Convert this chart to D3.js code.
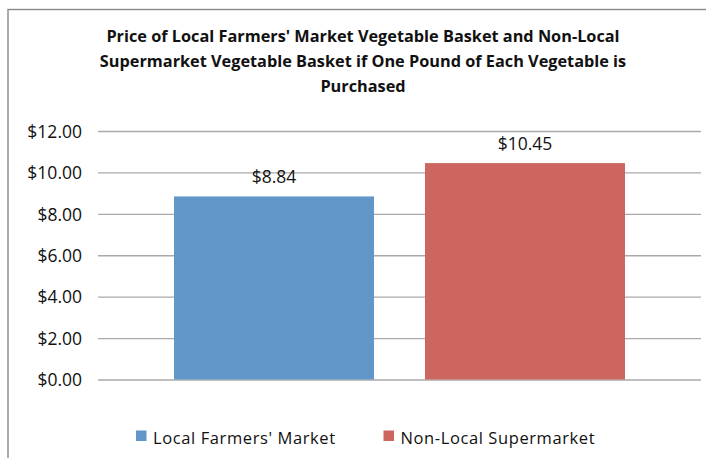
<!DOCTYPE html>
<html>
<head>
<meta charset="utf-8">
<script src="https://cdn.jsdelivr.net/npm/d3@7"></script>
<style>
  body { margin: 0; background: #fff; }
  svg { display: block; }
</style>
</head>
<body>
<svg width="706" height="458"></svg>
<script>
const WIDTH = 706
const HEIGHT = 458

const titleLines = [
    "Price of Local Farmers' Market Vegetable Basket and Non-Local",
    "Supermarket Vegetable Basket if One Pound of Each Vegetable is",
    "Purchased"
]
const categories = [""]
const seriesNames = ["Local Farmers' Market", "Non-Local Supermarket"]
const seriesValues = [8.84, 10.45]
const seriesColors = ["#6096c8", "#cd665f"]
const yTicks = [0, 2, 4, 6, 8, 10, 12]

const LABEL_FONT = "'Open Sans', 'DejaVu Sans', sans-serif"
const TITLE_FONT = "'Open Sans', sans-serif"

const svg = d3.select("svg")

// outer frame - right and bottom edges sit off the picture
svg.append("rect")
    .attr("x", 8)
    .attr("y", 9.5)
    .attr("width", 720)
    .attr("height", 480)
    .attr("fill", "#fff")
    .attr("stroke", "#888")
    .attr("stroke-width", 1.4)

const plot = { left: 98, right: 701, top: 131, bottom: 379.5 }

const y = d3.scaleLinear()
    .domain([0, 12])
    .range([plot.bottom, plot.top])

const x0 = d3.scaleBand()
    .domain(categories)
    .range([plot.left, plot.right])
    .paddingOuter(0.1685)
    .paddingInner(0)

const x1 = d3.scaleBand()
    .domain(seriesNames)
    .range([0, x0.bandwidth()])
    .paddingInner(0.203)
    .paddingOuter(0)

// gridlines + labels through a d3 axis
const yAxis = d3.axisLeft(y)
    .tickValues(yTicks)
    .tickSize(-(plot.right - plot.left))
    .tickPadding(16)
    .tickFormat(d3.format("$.2f"))

const axisG = svg.append("g")
    .attr("transform", "translate(" + plot.left + ",0)")
    .call(yAxis)

axisG.select(".domain").remove()
axisG.selectAll(".tick line")
    .attr("stroke", "#aaa")
    .attr("stroke-width", 1.3)
axisG.selectAll(".tick text")
    .attr("fill", "#111")
    .style("font-family", LABEL_FONT)
    .style("font-size", "17.5px")
    .attr("dy", "0.36em")

// bars
const barG = svg.append("g")
    .attr("transform", "translate(" + x0(categories[0]) + ",0)")

const rows = seriesNames.map((name, i) => ({ name: name, value: seriesValues[i], color: seriesColors[i] }))

barG.selectAll("rect.bar")
    .data(rows)
    .enter()
    .append("rect")
    .classed("bar", true)
    .attr("x", d => x1(d.name))
    .attr("width", x1.bandwidth())
    .attr("y", d => y(d.value))
    .attr("height", d => y(0) - y(d.value))
    .attr("fill", d => d.color)

barG.selectAll("text.value")
    .data(rows)
    .enter()
    .append("text")
    .classed("value", true)
    .attr("x", d => x1(d.name) + x1.bandwidth() / 2)
    .attr("y", d => y(d.value) - 13)
    .attr("text-anchor", "middle")
    .attr("fill", "#111")
    .style("font-family", LABEL_FONT)
    .style("font-size", "17.5px")
    .text(d => d3.format("$.2f")(d.value))

// title
svg.append("g")
    .selectAll("text")
    .data(titleLines)
    .enter()
    .append("text")
    .attr("x", 363)
    .attr("y", (d, i) => 41.7 + i * 25)
    .attr("text-anchor", "middle")
    .attr("fill", "#111")
    .style("font-family", TITLE_FONT)
    .style("font-weight", "bold")
    .style("font-size", "16.3px")
    .text(d => d)

// legend
const legendX = [136, 383.5]
const legend = svg.append("g")
    .selectAll("g")
    .data(rows)
    .enter()
    .append("g")
    .attr("transform", (d, i) => "translate(" + legendX[i] + ",430.5)")

legend.append("rect")
    .attr("width", 10.5)
    .attr("height", 10.5)
    .attr("fill", d => d.color)

legend.append("text")
    .attr("x", 17)
    .attr("y", 13)
    .attr("fill", "#111")
    .style("font-family", LABEL_FONT)
    .style("font-size", "16.5px")
    .style("letter-spacing", "0.6px")
    .text(d => d.name)
</script>
</body>
</html>
